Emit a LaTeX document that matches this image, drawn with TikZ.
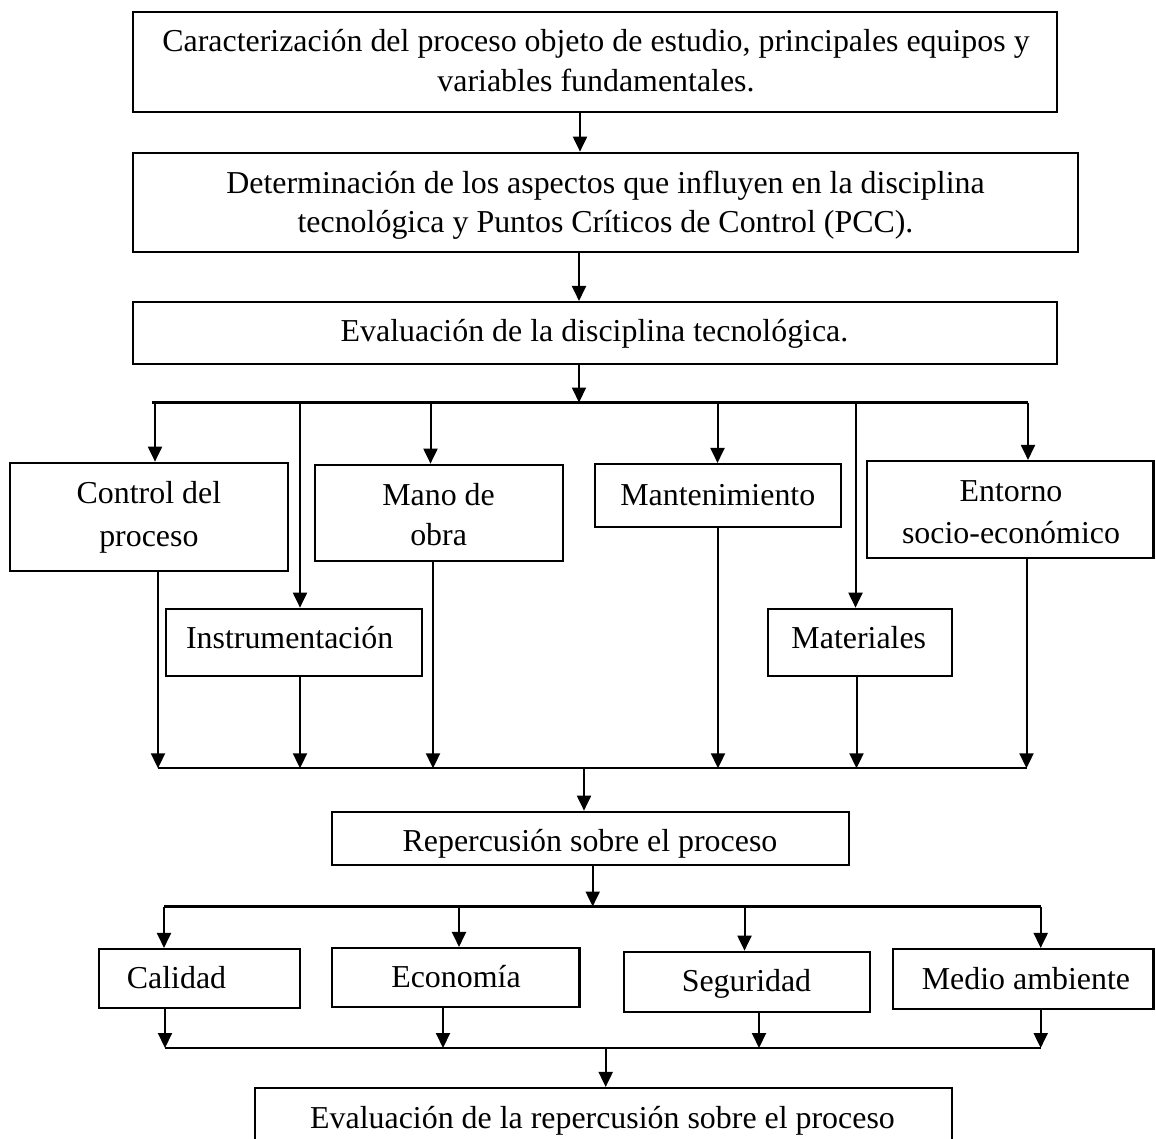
\documentclass[tikz,border=0pt]{standalone}
\usepackage{fontspec}
\setmainfont{Liberation Serif}
\usetikzlibrary{arrows.meta}
\begin{document}
\begin{tikzpicture}[x=1pt,y=-1pt,
  box/.style={draw, line width=2.1pt, inner sep=0pt, rectangle},
  txt/.style={inner sep=0pt, anchor=north, align=center, font=\fontsize{31.9pt}{40pt}\selectfont},
  link/.style={line width=2pt, -{Triangle[length=15pt,width=14pt]}},
  bus/.style={line width=2.3pt},
]
\path[use as bounding box] (0,0) rectangle (1156,1138);
\clip (0,0) rectangle (1156,1138);

% ---------- main sequence ----------
\node[box, minimum width=924pt, minimum height=100pt] (b1) at (595,62) {};
\node[txt] (t1) at (596,23.7) {\strut Caracterización del proceso objeto de estudio, principales equipos y\\\strut variables fundamentales.};

\node[box, minimum width=945pt, minimum height=99.6pt] (b2) at (605.5,202.5) {};
\node[txt, font={\fontsize{31.9pt}{38.5pt}\selectfont}] (t2) at (605.5,166.5) {\strut Determinación de los aspectos que influyen en la disciplina\\\strut tecnológica y Puntos Críticos de Control (PCC).};

\node[box, minimum width=924pt, minimum height=62pt] (b3) at (595,333) {};
\node[txt] (t3) at (594.5,313.7) {\strut Evaluación de la disciplina tecnológica.};

% ---------- aspects ----------
\node[box, minimum width=278.2pt, minimum height=108pt] (ctrl) at (148.7,516.7) {};
\node[txt, font={\fontsize{31.9pt}{43.5pt}\selectfont}] (tctrl) at (148.9,472.5) {\strut Control del\\\strut proceso};

\node[box, minimum width=256.3pt, minimum height=67.3pt] (instr) at (293.85,642.35) {};
\node[txt] (tinstr) at (289.7,620.3) {\strut Instrumentación};

\node[box, minimum width=247.6pt, minimum height=96.3pt] (mano) at (438.8,512.85) {};
\node[txt, font={\fontsize{31.9pt}{40.7pt}\selectfont}] (tmano) at (438.6,476.5) {\strut Mano de\\\strut obra};

\node[box, minimum width=246.3pt, minimum height=62.7pt] (mant) at (717.85,495.35) {};
\node[txt] (tmant) at (717.8,477) {\strut Mantenimiento};

\node[box, minimum width=184.1pt, minimum height=67.3pt] (mat) at (859.75,642.35) {};
\node[txt] (tmat) at (858.8,620.3) {\strut Materiales};

\node[box, minimum width=286.9pt, minimum height=96.7pt] (ent) at (1010.05,509.35) {};
\node[txt, font={\fontsize{31.9pt}{41.6pt}\selectfont}] (tent) at (1011,472.6) {\strut Entorno\\\strut socio-económico};

% ---------- effects ----------
\node[box, minimum width=517pt, minimum height=53.6pt] (rep) at (590.8,838.5) {};
\node[txt] (trep) at (590,823.7) {\strut Repercusión sobre el proceso};

\node[box, minimum width=201pt, minimum height=59pt] (cal) at (199.5,978.5) {};
\node[txt] (tcal) at (176.5,960.3) {\strut Calidad};

\node[box, minimum width=247.5pt, minimum height=58.7pt] (eco) at (455.75,977.35) {};
\node[txt] (teco) at (456,959.7) {\strut Economía};

\node[box, minimum width=245.7pt, minimum height=60pt] (seg) at (746.85,981.7) {};
\node[txt] (tseg) at (746.5,963) {\strut Seguridad};

\node[box, minimum width=260.9pt, minimum height=60pt] (med) at (1023.05,979) {};
\node[txt] (tmed) at (1025.9,961.3) {\strut Medio ambiente};

\node[box, minimum width=697pt, minimum height=82pt] (fin) at (603.5,1129) {};
\node[txt] (tfin) at (602.5,1100) {\strut Evaluación de la repercusión sobre el proceso};

% ---------- connectors: main sequence ----------
\coordinate (a1) at (580,0);
\coordinate (a2) at (579,0);
\draw[link] (a1 |- b1.south) -- (a1 |- b2.north);
\draw[link] (a2 |- b2.south) -- (a2 |- b3.north);

% distribution bus below the evaluation box
\coordinate (busL) at (152,402.5);
\coordinate (s1) at (155,402.5);
\coordinate (s2) at (300,402.5);
\coordinate (s3) at (430.5,402.5);
\coordinate (s4) at (717.5,402.5);
\coordinate (s5) at (855.5,402.5);
\coordinate (s6) at (1028,402.5);
\draw[link] (a2 |- b3.south) -- (a2 |- busL);
\draw[bus] (busL) -- (s6);
\draw[link] (s1) -- (s1 |- ctrl.north);
\draw[link] (s2) -- (s2 |- instr.north);
\draw[link] (s3) -- (s3 |- mano.north);
\draw[link] (s4) -- (s4 |- mant.north);
\draw[link] (s5) -- (s5 |- mat.north);
\draw[link] (s6) -- (s6 |- ent.north);

% collecting bus
\coordinate (e1) at (158,768.3);
\coordinate (e2) at (300,768.3);
\coordinate (e3) at (433,768.3);
\coordinate (e4) at (718,768.3);
\coordinate (e5) at (856.5,768.3);
\coordinate (e6) at (1026.5,768.3);
\draw[bus] (e1) -- (e6);
\draw[link] (e1 |- ctrl.south) -- (e1);
\draw[link] (e2 |- instr.south) -- (e2);
\draw[link] (e3 |- mano.south) -- (e3);
\draw[link] (e4 |- mant.south) -- (e4);
\draw[link] (e5 |- mat.south) -- (e5);
\draw[link] (e6 |- ent.south) -- (e6);

\coordinate (r1) at (584,768.3);
\draw[link] (r1) -- (r1 |- rep.north);

% effects bus
\coordinate (r2) at (592.7,0);
\coordinate (u1) at (164,906.5);
\coordinate (u2) at (459,906.5);
\coordinate (u3) at (744.5,906.5);
\coordinate (u4) at (1040.7,906.5);
\draw[link] (r2 |- rep.south) -- (r2 |- u1);
\draw[bus] (u1) -- (u4);
\draw[link] (u1) -- (u1 |- cal.north);
\draw[link] (u2) -- (u2 |- eco.north);
\draw[link] (u3) -- (u3 |- seg.north);
\draw[link] (u4) -- (u4 |- med.north);

% final collecting bus
\coordinate (v1) at (165,1048);
\coordinate (v2) at (443,1048);
\coordinate (v3) at (759,1048);
\coordinate (v4) at (1040.7,1048);
\draw[bus] (v1) -- (v4);
\draw[link] (v1 |- cal.south) -- (v1);
\draw[link] (v2 |- eco.south) -- (v2);
\draw[link] (v3 |- seg.south) -- (v3);
\draw[link] (v4 |- med.south) -- (v4);

\coordinate (k) at (605.7,1048);
\draw[link] (k) -- (k |- fin.north);
\end{tikzpicture}
\end{document}
